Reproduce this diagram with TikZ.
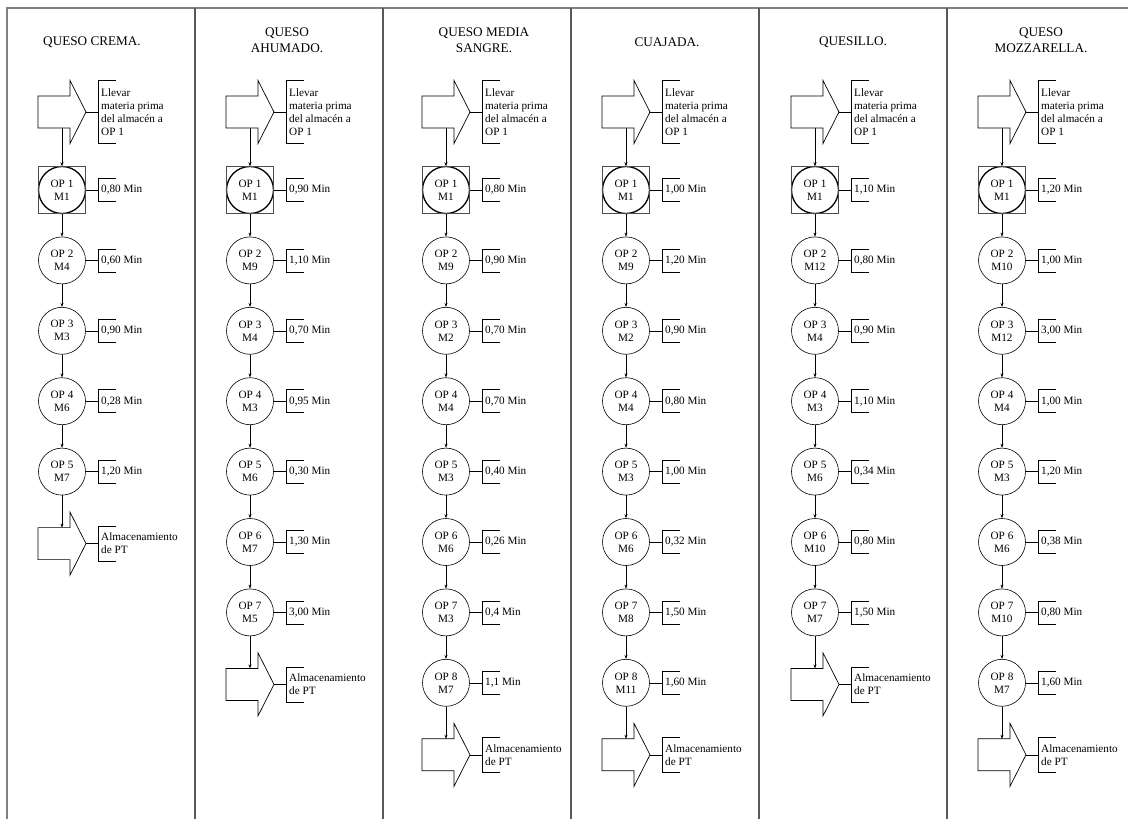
\documentclass[tikz,border=0pt]{standalone}
\usepackage{fontspec}
\setmainfont{Liberation Serif}
\usetikzlibrary{arrows.meta}
\tikzset{
  opnode/.style={circle,draw,line width=0.6pt,minimum size=47pt,inner sep=0pt,align=center,font=\fontsize{11.2}{13}\selectfont},
  firstop/.style={opnode,line width=1.3pt},
  opsquare/.style={draw=black!70,line width=0.5pt,minimum size=47pt,inner sep=0pt},
  lbl/.style={anchor=west,inner sep=0pt,align=left,font=\fontsize{11.2}{13}\selectfont},
  hdr/.style={inner sep=0pt,align=center,font=\fontsize{13.2}{15.5}\selectfont},
  conn/.style={line width=0.6pt,-{Stealth[length=4pt,width=3pt]}},
  brk/.style={line width=0.6pt},
  bigarrow/.style={line width=0.7pt},
  frameline/.style={draw=black!50,line width=1.8pt},
  divider/.style={draw=black!65,line width=1.2pt},
}
\newcommand\bigarrowat[3]{%
  \draw[bigarrow] (#2-24,#3-16) -- (#2+8,#3-16) -- (#2+8,#3-31.5) -- (#2+24,#3)
     -- (#2+8,#3+31.5) -- (#2+8,#3+16) -- (#2-24,#3+16) -- cycle;
  \coordinate (#1-top) at (#2,#3-16);
  \coordinate (#1-bot) at (#2,#3+16);
  \coordinate (#1-tip) at (#2+24,#3);
}
\newcommand\opcol[4]{%
  \bigarrowat{in#1}{#2}{112}
  \coordinate (inb#1) at (#2+36,112);
  \draw[brk] (in#1-tip) -- (inb#1);
  \draw[brk] (#2+54,80.5) -| (#2+36,143.5) -- (#2+54,143.5);
  \node[lbl] (inl#1) at (#2+39,112) {Llevar\\materia prima\\del almacén a\\OP 1};
  \foreach \m/\t [count=\j] in {#4} {
    \pgfmathsetmacro\cy{190+(\j-1)*70.4}
    \ifnum\j=1
      \node[firstop] (c#1-\j) at (#2,\cy) {OP \j\\\m};
      \node[opsquare] (sq#1) at (#2,\cy) {};
      \draw[conn] (in#1-bot) -- (sq#1.north);
    \else
      \node[opnode] (c#1-\j) at (#2,\cy) {OP \j\\\m};
      \pgfmathtruncatemacro\prev{\j-1}
      \draw[conn] (c#1-\prev) -- (c#1-\j);
    \fi
    \coordinate (tb#1-\j) at (#2+36,\cy);
    \draw[brk] (c#1-\j.east) -- (tb#1-\j);
    \draw[brk] (#2+54,\cy-11.5) -| (#2+36,\cy+11.5) -- (#2+54,\cy+11.5);
    \node[lbl] (t#1-\j) at (#2+39,\cy) {\t};
  }
  \pgfmathsetmacro\sy{190+(#3-1)*70.4+72}
  \bigarrowat{out#1}{#2}{\sy}
  \draw[conn] (c#1-#3) -- (out#1-top);
  \coordinate (outb#1) at (#2+36,\sy);
  \draw[brk] (out#1-tip) -- (outb#1);
  \draw[brk] (#2+54,\sy-17.5) -| (#2+36,\sy+17.5) -- (#2+54,\sy+17.5);
  \node[lbl] (outl#1) at (#2+39,\sy) {Almacenamiento\\de PT};
}
\begin{document}
\begin{tikzpicture}[x=1pt,y=-1pt]
\useasboundingbox (0,0) rectangle (1128,819);
\fill[white] (0,0) rectangle (1128,819);
% frame and dividers
\draw[frameline] (7,819) -- (7,8) -- (1128,8);
\foreach \x in {195,383,571,759,947} \draw[divider] (\x,8) -- (\x,819);
% headers
\node[hdr] (h1) at (92,42) {QUESO CREMA.};
\node[hdr] (h2) at (287,40) {QUESO\\AHUMADO.};
\node[hdr] (h3) at (484,40) {QUESO MEDIA\\SANGRE.};
\node[hdr] (h4) at (667,42) {CUAJADA.};
\node[hdr] (h5) at (853,42) {QUESILLO.};
\node[hdr] (h6) at (1041,40) {QUESO\\MOZZARELLA.};
% columns
\opcol{1}{62}{5}{{M1/0,80 Min},{M4/0,60 Min},{M3/0,90 Min},{M6/0,28 Min},{M7/1,20 Min}}
\opcol{2}{250}{7}{{M1/0,90 Min},{M9/1,10 Min},{M4/0,70 Min},{M3/0,95 Min},{M6/0,30 Min},{M7/1,30 Min},{M5/3,00 Min}}
\opcol{3}{446}{8}{{M1/0,80 Min},{M9/0,90 Min},{M2/0,70 Min},{M4/0,70 Min},{M3/0,40 Min},{M6/0,26 Min},{M3/0,4 Min},{M7/1,1 Min}}
\opcol{4}{626}{8}{{M1/1,00 Min},{M9/1,20 Min},{M2/0,90 Min},{M4/0,80 Min},{M3/1,00 Min},{M6/0,32 Min},{M8/1,50 Min},{M11/1,60 Min}}
\opcol{5}{815}{7}{{M1/1,10 Min},{M12/0,80 Min},{M4/0,90 Min},{M3/1,10 Min},{M6/0,34 Min},{M10/0,80 Min},{M7/1,50 Min}}
\opcol{6}{1002}{8}{{M1/1,20 Min},{M10/1,00 Min},{M12/3,00 Min},{M4/1,00 Min},{M3/1,20 Min},{M6/0,38 Min},{M10/0,80 Min},{M7/1,60 Min}}
\end{tikzpicture}
\end{document}
